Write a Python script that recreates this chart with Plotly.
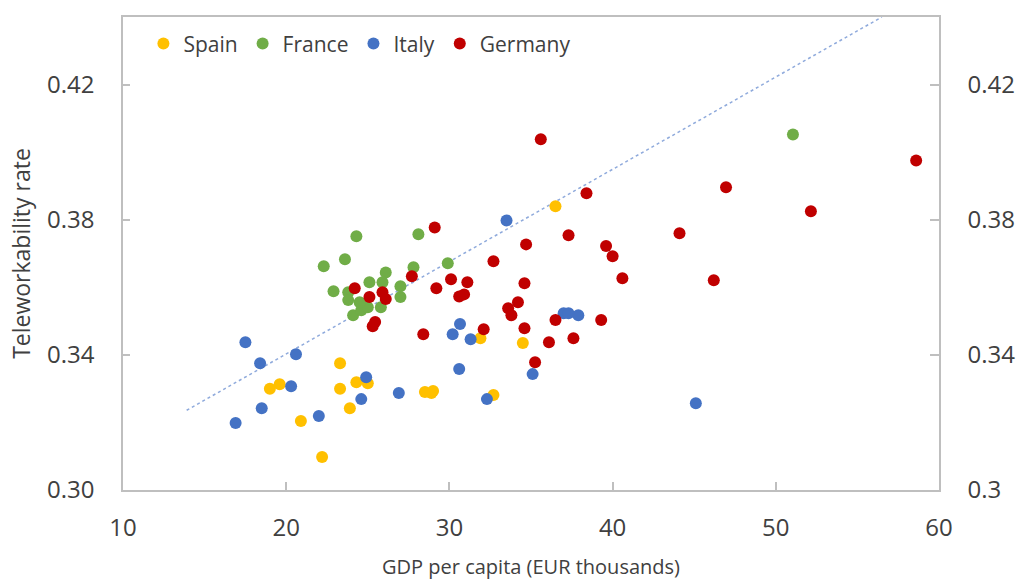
import plotly.graph_objects as go

# GDP per capita (EUR thousands) and teleworkability rate by region
spain_x = [36.5, 23.3, 19.0, 19.6, 23.3, 24.3, 25.0, 23.9, 20.9, 22.2, 31.9, 34.5, 28.5, 28.9, 29.0, 32.7]
spain_y = [0.384, 0.3375, 0.330, 0.3313, 0.330, 0.3319, 0.3316, 0.3242, 0.3204, 0.3098, 0.3449, 0.3435,
           0.329, 0.3287, 0.3293, 0.3281]

france_x = [24.3, 22.3, 23.6, 22.9, 23.8, 23.8, 25.1, 26.1, 25.9, 27.0, 27.0, 27.8, 28.1, 24.1, 24.6,
            25.0, 25.8, 24.5, 29.9, 51.05]
france_y = [0.3751, 0.3662, 0.3683, 0.3588, 0.3585, 0.3562, 0.3615, 0.3644, 0.3615, 0.3603, 0.3571,
            0.3659, 0.3757, 0.3517, 0.3532, 0.3541, 0.3541, 0.3556, 0.3671, 0.4052]

italy_x = [17.5, 18.4, 20.6, 20.3, 18.5, 16.9, 22.0, 24.9, 24.6, 30.65, 30.2, 31.3, 37.0, 37.3, 37.9,
           30.6, 35.1, 26.9, 32.3, 33.5, 45.1]
italy_y = [0.3437, 0.3375, 0.3402, 0.3307, 0.3242, 0.3198, 0.3219, 0.3334, 0.3269, 0.3491, 0.3461,
           0.3446, 0.3523, 0.3523, 0.3517, 0.3358, 0.3343, 0.3287, 0.3269, 0.3798, 0.3257]

germany_x = [24.2, 25.1, 25.9, 26.1, 27.7, 25.3, 25.45, 29.1, 29.2, 28.4, 35.6, 38.4, 37.3, 34.7, 39.6,
             40.0, 40.6, 32.7, 30.1, 31.1, 34.6, 30.6, 30.9, 34.2, 33.6, 33.8, 36.5, 39.3, 34.6, 36.1,
             37.6, 32.1, 35.25, 58.6, 46.95, 52.15, 44.1, 46.2]
germany_y = [0.3597, 0.3571, 0.3585, 0.3565, 0.3633, 0.3485, 0.3497, 0.3777, 0.3597, 0.3461, 0.4038,
             0.3878, 0.3754, 0.3727, 0.3722, 0.3692, 0.3627, 0.3677, 0.3624, 0.3615, 0.3612, 0.3573,
             0.3579, 0.3556, 0.3538, 0.3517, 0.3503, 0.3503, 0.3479, 0.3437, 0.3449, 0.3476, 0.3378,
             0.3975, 0.3896, 0.3825, 0.3760, 0.3621]

# Linear trend endpoints
trend_x = [13.9, 56.5]
trend_y = [0.3236, 0.44]

x_ticks = [10, 20, 30, 40, 50, 60]
y_ticks = [0.30, 0.34, 0.38, 0.42]
y_left_labels = ["0.30", "0.34", "0.38", "0.42"]
y_right_labels = ["0.3", "0.34", "0.38", "0.42"]

FONT = "Open Sans, Noto Sans, sans-serif"
TEXT = "#404040"
AXIS = "#BFBFBF"

fig = go.Figure()

fig.add_trace(go.Scatter(
    x=trend_x, y=trend_y, mode="lines", showlegend=False, hoverinfo="skip",
    line=dict(color="#8FAADC", width=1.5, dash="dot"),
))

series = [
    ("Spain", spain_x, spain_y, "#FFC000"),
    ("France", france_x, france_y, "#70AD47"),
    ("Italy", italy_x, italy_y, "#4472C4"),
    ("Germany", germany_x, germany_y, "#C00000"),
]
for name, xs, ys, color in series:
    fig.add_trace(go.Scatter(
        x=xs, y=ys, mode="markers", name=name,
        marker=dict(color=color, size=12, line=dict(width=0)),
    ))

# invisible trace carrying the right-hand axis
fig.add_trace(go.Scatter(x=[None], y=[None], yaxis="y2", showlegend=False, hoverinfo="skip"))

fig.update_layout(
    width=1020, height=580,
    margin=dict(l=123, r=81, t=17, b=90),
    paper_bgcolor="white", plot_bgcolor="white",
    font=dict(family=FONT, color=TEXT),
    showlegend=True,
    legend=dict(
        orientation="h", x=0.025, y=0.943, xanchor="left", yanchor="middle",
        font=dict(size=21, color=TEXT), bgcolor="rgba(0,0,0,0)",
        itemwidth=30,
    ),
    xaxis=dict(
        range=[10, 60], tickvals=x_ticks, ticktext=[str(v) for v in x_ticks],
        showgrid=False, zeroline=False, automargin=False,
        showline=True, linecolor=AXIS, linewidth=1.5, mirror=True,
        ticks="inside", ticklen=8, tickcolor=AXIS, tickwidth=1.5,
        tickfont=dict(size=24, color=TEXT), ticklabelstandoff=15,
        title=dict(text="GDP per capita (EUR thousands)", font=dict(size=20, color=TEXT), standoff=18),
    ),
    yaxis=dict(
        range=[0.30, 0.44], tickvals=y_ticks, ticktext=y_left_labels,
        showgrid=False, zeroline=False, automargin=False,
        showline=True, linecolor=AXIS, linewidth=1.5,
        ticks="inside", ticklen=7, tickcolor=AXIS, tickwidth=1.5,
        tickfont=dict(size=24, color=TEXT), ticklabelstandoff=22,
        title=dict(text="Teleworkability rate", font=dict(size=23, color=TEXT), standoff=10),
    ),
    yaxis2=dict(
        range=[0.30, 0.44], tickvals=y_ticks, ticktext=y_right_labels,
        overlaying="y", side="right",
        showgrid=False, zeroline=False, automargin=False,
        showline=True, linecolor=AXIS, linewidth=1.5,
        ticks="inside", ticklen=9, tickcolor=AXIS, tickwidth=1.5,
        tickfont=dict(size=24, color=TEXT), ticklabelstandoff=22,
    ),
)

fig.write_html("out.html")
